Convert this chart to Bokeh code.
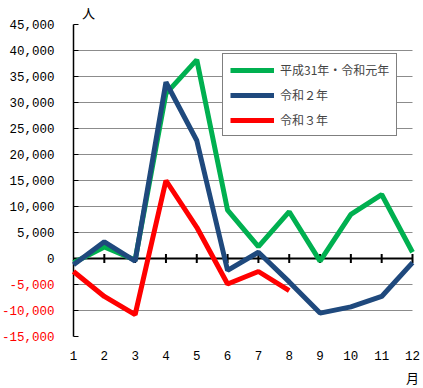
import math
from bokeh.plotting import figure
from bokeh.models import Range1d, Legend, LegendItem, ColumnDataSource
from bokeh.core.properties import value
from bokeh.embed import file_html
from bokeh.resources import INLINE

months = [1, 2, 3, 4, 5, 6, 7, 8, 9, 10, 11, 12]
r1_label = "平成31年・令和元年"
r1_vals = [-800, 2200, -300, 31700, 38200, 9300, 2300, 9000, -500, 8500, 12300, 1200]
r2_label = "令和２年"
r2_vals = [-1200, 3200, -500, 33900, 22700, -2300, 1200, -4500, -10500, -9300, -7300, -800]
r3_label = "令和３年"
r3_months = [1, 2, 3, 4, 5, 6, 7, 8]
r3_vals = [-2500, -7300, -10800, 15000, 6000, -4900, -2500, -6200]
y_ticks = [-15000, -10000, -5000, 0, 5000, 10000, 15000, 20000, 25000, 30000, 35000, 40000, 45000]
y_unit = "人"
x_unit = "月"

NUM_FONT = "Liberation Mono"
JP_FONT = "Noto Sans CJK JP"
W, H = 423, 388
# pixel layout of the plotting area inside the canvas
LEFT, RIGHT, TOP, BOTTOM = 73, 412, 24, 336

ppx = (RIGHT - LEFT) / (months[-1] - months[0])
ppy = (BOTTOM - TOP) / (y_ticks[-1] - y_ticks[0])
x0 = months[0] - LEFT / ppx
x1 = x0 + W / ppx
y1 = y_ticks[-1] + TOP / ppy
y0 = y1 - H / ppy

p = figure(width=W, height=H, output_backend="svg", toolbar_location=None,
           x_range=Range1d(x0, x1), y_range=Range1d(y0, y1),
           min_border_left=0, min_border_right=0, min_border_top=0, min_border_bottom=0)
p.outline_line_color = None
p.xaxis.visible = False
p.yaxis.visible = False
p.xgrid.visible = False
p.ygrid.visible = False

# horizontal grid lines
grid_vals = [t for t in y_ticks if t not in (0, y_ticks[0], y_ticks[-1])]
p.segment(x0=[months[0]] * len(grid_vals), x1=[months[-1]] * len(grid_vals),
          y0=grid_vals, y1=grid_vals, line_color="#8c8c8c", line_width=1)

# y axis line and inward ticks
p.segment(x0=[months[0]], x1=[months[0]], y0=[y_ticks[0]], y1=[y_ticks[-1]],
          line_color="black", line_width=1.5)
p.ray(x=[months[0]] * len(y_ticks), y=y_ticks, length=5, length_units="screen", angle=0,
      line_color="black", line_width=1)

# zero line with ticks
p.segment(x0=[months[0]], x1=[months[-1]], y0=[0], y1=[0], line_color="black", line_width=2)
p.scatter(x=months[1:], y=[0] * (len(months) - 1), marker="dash", angle=math.pi / 2, size=9,
          line_color="black", line_width=2)

# y tick labels (negatives in red)
ylab = ColumnDataSource(dict(
    x=[months[0]] * len(y_ticks), y=y_ticks,
    text=[f"{t:,}" for t in y_ticks],
    color=["red" if t < 0 else "black" for t in y_ticks]))
p.text(x="x", y="y", text="text", source=ylab, text_color="color", x_offset=-19,
       text_align="right", text_baseline="middle",
       text_font=value(NUM_FONT), text_font_size=value("12.5px"))

# x tick labels
xlab = ColumnDataSource(dict(x=months, y=[y_ticks[0]] * len(months), text=[str(m) for m in months]))
p.text(x="x", y="y", text="text", source=xlab, y_offset=19, text_align="center",
       text_baseline="middle", text_color="black",
       text_font=value(NUM_FONT), text_font_size=value("12.5px"))

# units
p.text(x=[months[0]], y=[y_ticks[-1]], text=[y_unit], x_offset=15, y_offset=-12,
       text_align="center", text_baseline="middle", text_color="black",
       text_font=value(JP_FONT), text_font_size=value("13px"))
p.text(x=[months[-1]], y=[y_ticks[0]], text=[x_unit], y_offset=41,
       text_align="center", text_baseline="middle", text_color="black",
       text_font=value(JP_FONT), text_font_size=value("13px"))

src1 = ColumnDataSource(dict(x=months, y=r1_vals))
src2 = ColumnDataSource(dict(x=months, y=r2_vals))
src3 = ColumnDataSource(dict(x=r3_months, y=r3_vals))
l1 = p.line("x", "y", source=src1, line_color="#00B050", line_width=5)
l2 = p.line("x", "y", source=src2, line_color="#1F497D", line_width=5)
l3 = p.line("x", "y", source=src3, line_color="#FF0000", line_width=5)

legend = Legend(items=[LegendItem(label=r1_label, renderers=[l1]),
                       LegendItem(label=r2_label, renderers=[l2]),
                       LegendItem(label=r3_label, renderers=[l3])],
                location=(222, 252), border_line_color="black", border_line_width=1,
                background_fill_alpha=1, padding=7, spacing=8, glyph_height=14,
                glyph_width=44, label_standoff=6, label_height=14,
                label_text_font=JP_FONT, label_text_font_size="12px", margin=0)
p.add_layout(legend, "center")

open("out.html", "w").write(file_html(p, INLINE))
